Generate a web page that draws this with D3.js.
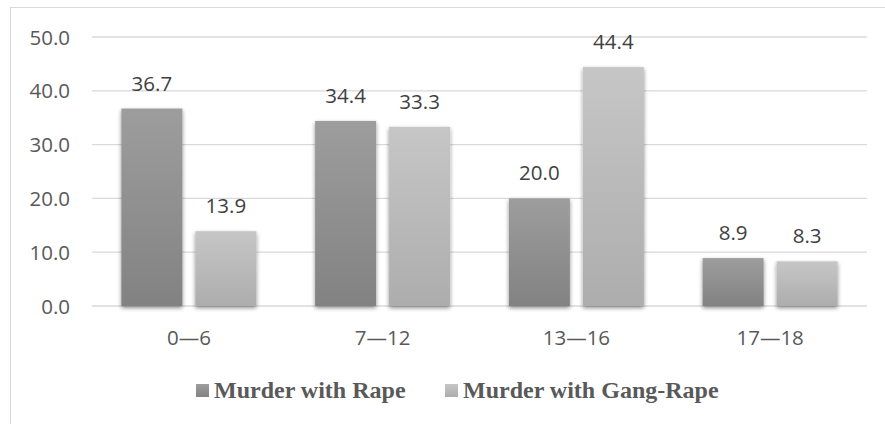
<!DOCTYPE html>
<html>
<head>
<meta charset="utf-8">
<script src="https://cdn.jsdelivr.net/npm/d3@7"></script>
<style>
  html, body { margin: 0; padding: 0; background: #fff; }
  svg { display: block; }
</style>
</head>
<body>
<svg id="chart" width="885" height="424"></svg>
<script>
// Age groups of victims
const categories = ["0\u20146", "7\u201412", "13\u201416", "17\u201418"];
// Percentage of victims per age group
const murderWithRape = [36.7, 34.4, 20.0, 8.9];
const murderWithGangRape = [13.9, 33.3, 44.4, 8.3];
const seriesNames = ["Murder with Rape", "Murder with Gang-Rape"];
const yTicks = [0, 10, 20, 30, 40, 50];

const svg = d3.select("#chart");
const W = 885, H = 424;

const plot = { left: 92, right: 867, top: 37, bottom: 306 };
const labelFont = "'Open Sans', sans-serif";
const labelSize = 20.5;

const defs = svg.append("defs");
const grads = [
  { id: "gDark", top: "#9d9d9d", bottom: "#828282" },
  { id: "gLight", top: "#c6c6c6", bottom: "#adadad" }
];
grads.forEach(g => {
  const lg = defs.append("linearGradient").attr("id", g.id)
    .attr("x1", 0).attr("y1", 0).attr("x2", 0).attr("y2", 1);
  lg.append("stop").attr("offset", "0%").attr("stop-color", g.top);
  lg.append("stop").attr("offset", "100%").attr("stop-color", g.bottom);
});
const f = defs.append("filter").attr("id", "shadow")
  .attr("x", "-20%").attr("y", "-20%").attr("width", "140%").attr("height", "140%");
f.append("feGaussianBlur").attr("in", "SourceAlpha").attr("stdDeviation", 2).attr("result", "b");
f.append("feOffset").attr("in", "b").attr("dx", 0).attr("dy", 2).attr("result", "o");
f.append("feComponentTransfer").attr("in", "o").attr("result", "s")
  .append("feFuncA").attr("type", "linear").attr("slope", 0.45);
const fm = f.append("feMerge");
fm.append("feMergeNode").attr("in", "s");
fm.append("feMergeNode").attr("in", "SourceGraphic");

// Chart frame (continues past the right and bottom edges)
svg.append("path")
  .attr("d", `M10.5,${H + 2} L10.5,7.5 L${W + 2},7.5`)
  .attr("fill", "none").attr("stroke", "#d9d9d9").attr("stroke-width", 1.2);

const x = d3.scaleBand().domain(categories).range([plot.left, plot.right]).padding(0);
const y = d3.scaleLinear().domain([0, 50]).range([plot.bottom, plot.top]);

// Gridlines
svg.append("g").selectAll("line").data(yTicks).join("line")
  .attr("x1", plot.left).attr("x2", plot.right)
  .attr("y1", d => y(d)).attr("y2", d => y(d))
  .attr("stroke", "#d9d9d9").attr("stroke-width", 1.3);

// Y axis labels
const yAxis = d3.axisLeft(y).tickValues(yTicks).tickFormat(d3.format(".1f")).tickSize(0).tickPadding(0);
const yg = svg.append("g").attr("transform", "translate(70,0)").call(yAxis);
yg.select(".domain").remove();
yg.selectAll("text")
  .attr("fill", "#595959")
  .attr("font-family", labelFont)
  .attr("font-size", labelSize)
  .attr("dy", "0.35em");

// Bars
const barW = 61, gap = 13;
const series = [
  { name: seriesNames[0], values: murderWithRape, fill: "url(#gDark)", offset: -(barW + gap) / 2 },
  { name: seriesNames[1], values: murderWithGangRape, fill: "url(#gLight)", offset: (barW + gap) / 2 }
];
series.forEach(s => {
  const g = svg.append("g");
  const data = categories.map((c, i) => ({ c, v: s.values[i] }));
  g.selectAll("rect").data(data).join("rect")
    .attr("x", d => x(d.c) + x.bandwidth() / 2 + s.offset - barW / 2)
    .attr("y", d => y(d.v))
    .attr("width", barW)
    .attr("height", d => y(0) - y(d.v))
    .attr("fill", s.fill)
    .attr("filter", "url(#shadow)");
  g.selectAll("text").data(data).join("text")
    .attr("x", d => x(d.c) + x.bandwidth() / 2 + s.offset)
    .attr("y", d => y(d.v) - 18)
    .attr("text-anchor", "middle")
    .attr("fill", "#404040")
    .attr("font-family", labelFont)
    .attr("font-size", labelSize)
    .text(d => d.v.toFixed(1));
});

// Category labels
const xAxis = d3.axisBottom(x).tickSize(0).tickPadding(0);
const xg = svg.append("g").attr("transform", `translate(0,${plot.bottom})`).call(xAxis);
xg.select(".domain").remove();
xg.selectAll("text")
  .attr("y", 39)
  .attr("dy", 0)
  .attr("fill", "#595959")
  .attr("font-family", labelFont)
  .attr("font-size", labelSize);

// Legend
const legend = [
  { name: seriesNames[0], fill: "url(#gDark)", x: 196 },
  { name: seriesNames[1], fill: "url(#gLight)", x: 445 }
];
const lg = svg.append("g");
legend.forEach(l => {
  lg.append("rect").attr("x", l.x).attr("y", 384).attr("width", 13).attr("height", 13).attr("fill", l.fill);
  lg.append("text").attr("x", l.x + 18).attr("y", 398)
    .attr("fill", "#595959")
    .attr("font-family", "'Liberation Serif', 'Times New Roman', serif")
    .attr("font-weight", "bold")
    .attr("font-size", 24)
    .text(l.name);
});
</script>
</body>
</html>
